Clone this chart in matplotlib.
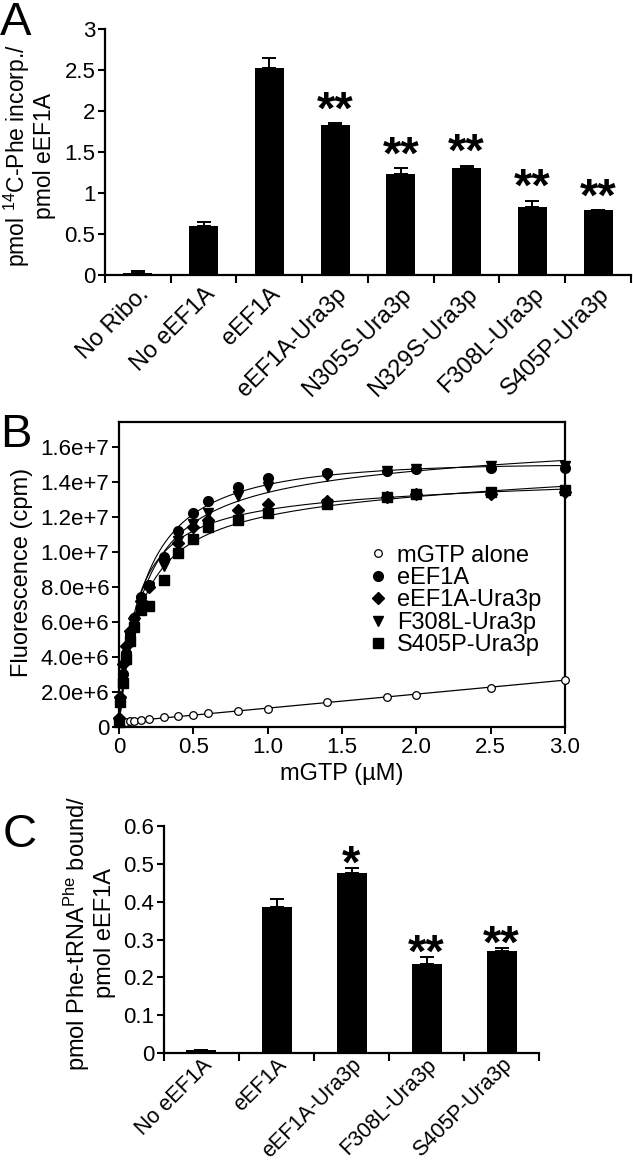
import matplotlib
matplotlib.use('Agg')
import matplotlib.pyplot as plt
import numpy as np

plt.rcParams['font.family'] = ['Liberation Sans', 'DejaVu Sans']
plt.rcParams['mathtext.fontset'] = 'custom'
plt.rcParams['mathtext.rm'] = 'Liberation Sans'
plt.rcParams['mathtext.it'] = 'Liberation Sans:italic'

# ---- panel A data ----
a_labels = ['No Ribo.', 'No eEF1A', 'eEF1A', 'eEF1A-Ura3p', 'N305S-Ura3p',
            'N329S-Ura3p', 'F308L-Ura3p', 'S405P-Ura3p']
a_values = [0.025, 0.60, 2.53, 1.83, 1.23, 1.30, 0.83, 0.79]
a_errors = [0.025, 0.05, 0.12, 0.02, 0.07, 0.03, 0.07, 0.0]
a_stars = ['', '', '', '**', '**', '**', '**', '**']
a_yticks = [0, 0.5, 1, 1.5, 2, 2.5, 3]
a_yticklabels = ['0', '0.5', '1', '1.5', '2', '2.5', '3']

# ---- panel B data (fluorescence, cpm) ----
b_x = [0, 0.01, 0.025, 0.05, 0.075, 0.1, 0.15, 0.2, 0.3, 0.4, 0.5, 0.6,
       0.8, 1.0, 1.4, 1.8, 2.0, 2.5, 3.0]
b_mgtp = [0.25, 0.28, 0.30, 0.30, 0.32, 0.32, 0.38, 0.45, 0.55, 0.62, 0.70,
          0.82, 0.93, 1.03, 1.44, 1.74, 1.83, 2.25, 2.68]
b_eef1a = [0.4, 1.6, 3.0, 4.2, 5.3, 6.2, 7.4, 8.1, 9.7, 11.2, 12.2, 12.9,
           13.7, 14.2, 14.5, 14.6, 14.7, 14.8, 14.8]
b_eef1a_ura = [0.5, 1.7, 3.6, 4.6, 5.5, 6.2, 7.2, 8.0, 9.6, 10.5, 11.4, 11.8,
               12.4, 12.7, 12.9, 13.1, 13.3, 13.3, 13.4]
b_f308l = [0.3, 1.5, 2.8, 4.0, 5.1, 6.0, 7.2, 8.0, 9.2, 10.6, 11.6, 12.2,
           13.2, 13.7, 14.3, 14.6, 14.7, 14.9, 14.9]
b_s405p = [0.3, 1.4, 2.5, 3.9, 4.9, 5.7, 6.7, 6.9, 8.4, 9.9, 10.7, 11.4,
           11.8, 12.2, 12.7, 13.1, 13.3, 13.4, 13.5]
b_yticks = [0, 2e6, 4e6, 6e6, 8e6, 1e7, 1.2e7, 1.4e7, 1.6e7]
b_yticklabels = ['0', '2.0e+6', '4.0e+6', '6.0e+6', '8.0e+6', '1.0e+7',
                 '1.2e+7', '1.4e+7', '1.6e+7']
b_xticks = [0, 0.5, 1.0, 1.5, 2.0, 2.5, 3.0]
b_xticklabels = ['0', '0.5', '1.0', '1.5', '2.0', '2.5', '3.0']

# ---- panel C data ----
c_labels = ['No eEF1A', 'eEF1A', 'eEF1A-Ura3p', 'F308L-Ura3p', 'S405P-Ura3p']
c_values = [0.008, 0.386, 0.477, 0.236, 0.269]
c_errors = [0.0, 0.022, 0.013, 0.019, 0.009]
c_stars = ['', '', '*', '**', '**']
c_yticks = [0, 0.1, 0.2, 0.3, 0.4, 0.5, 0.6]
c_yticklabels = ['0', '0.1', '0.2', '0.3', '0.4', '0.5', '0.6']

FS = 16      # tick labels
LS = 17      # axis labels / legend
W, H = 633, 1169


def fpos(l, t, r, b):
    return [l / W, 1 - b / H, (r - l) / W, (b - t) / H]


def bar_panel(ax, labels, values, errors, stars, yticks, yticklabels, star_off, width,
              lab_fs, lab_pad):
    n = len(labels)
    xc = np.arange(n) + 0.5
    ax.bar(xc, values, width=width, color='black', zorder=2)
    ax.errorbar(xc, values, yerr=[np.zeros(n), errors], fmt='none', ecolor='black',
                elinewidth=1.4, capsize=5, capthick=1.4, zorder=1)
    for x, v, e, s in zip(xc, values, errors, stars):
        if s:
            ax.annotate(s, (x, v + e), xytext=(0, star_off), textcoords='offset points',
                        ha='center', va='baseline', fontsize=34, fontweight='bold')
    ax.set_xlim(0, n)
    ax.set_ylim(0, yticks[-1])
    ax.set_xticks(np.arange(n + 1))
    ax.set_xticklabels([])
    ax.set_xticks(xc, minor=True)
    ax.set_xticklabels(labels, minor=True, rotation=45, ha='right', va='top',
                       rotation_mode='anchor', fontsize=lab_fs)
    ax.tick_params(axis='x', which='minor', length=0, pad=lab_pad)
    ax.tick_params(axis='x', which='major', length=6, width=1.5, direction='out')
    ax.set_yticks(yticks)
    ax.set_yticklabels(yticklabels, fontsize=FS)
    ax.tick_params(axis='y', length=5, width=1.5, direction='out', pad=2)
    for sp in ['top', 'right']:
        ax.spines[sp].set_visible(False)
    for sp in ['left', 'bottom']:
        ax.spines[sp].set_linewidth(1.6)


def fit_hyperbola(x, y):
    x = np.asarray(x)
    y = np.asarray(y)
    best = None
    for k in np.linspace(0.02, 1.5, 600):
        A = np.column_stack([x / (k + x), x])
        coef, res, _, _ = np.linalg.lstsq(A, y, rcond=None)
        r = np.sum((A @ coef - y) ** 2)
        if best is None or r < best[0]:
            best = (r, k, coef)
    return best[1], best[2]


fig = plt.figure(figsize=(W / 100, H / 100), dpi=100)

# ---------- A ----------
axA = fig.add_axes(fpos(105, 29, 631, 275))
bar_panel(axA, a_labels, a_values, a_errors, a_stars, a_yticks, a_yticklabels,
          star_off=0, width=0.44, lab_fs=LS, lab_pad=6)
fig.text(29 / W, 1 - 156 / H, 'pmol $^{\\mathregular{14}}$C-Phe incorp./\npmol eEF1A',
         rotation=90, ha='center', va='center', fontsize=16.5, multialignment='center',
         linespacing=1.1)
fig.text(0 / W, 1 - 23 / H, 'A', fontsize=34, ha='left', va='center')

# ---------- B ----------
axB = fig.add_axes(fpos(119, 422, 565, 727))
xs = np.asarray(b_x)
xfit = np.linspace(0, 3.0, 400)
slope, icpt = np.polyfit(xs, np.asarray(b_mgtp) * 1e6, 1)
axB.plot(xfit, slope * xfit + icpt, color='black', lw=0.9, zorder=1)
series = [(b_eef1a, 'o', 7, 'eEF1A'), (b_eef1a_ura, 'D', 6.5, 'eEF1A-Ura3p'),
          (b_f308l, 'v', 7.5, 'F308L-Ura3p'), (b_s405p, 's', 6.5, 'S405P-Ura3p')]
for ys, mk, ms, lab in series:
    y = np.asarray(ys) * 1e6
    k, coef = fit_hyperbola(xs, y)
    axB.plot(xfit, coef[0] * xfit / (k + xfit) + coef[1] * xfit, color='black', lw=0.8, zorder=1)
handles = []
h = axB.plot(xs, np.asarray(b_mgtp) * 1e6, 'o', ms=5.5, mfc='white', mec='black', mew=0.9,
             label='mGTP alone', zorder=3, clip_on=False)[0]
handles.append(h)
for ys, mk, ms, lab in series:
    h = axB.plot(xs, np.asarray(ys) * 1e6, mk, ms=ms, color='black', label=lab, zorder=3,
                 clip_on=False)[0]
    handles.append(h)
axB.set_xlim(0, 3.0)
axB.set_ylim(0, 1.74e7)
axB.set_xticks(b_xticks)
axB.set_xticklabels(b_xticklabels, fontsize=FS)
axB.set_yticks(b_yticks)
axB.set_yticklabels(b_yticklabels, fontsize=FS)
axB.tick_params(length=5, width=1.4, direction='out', pad=2, top=False, right=False)
for sp in axB.spines.values():
    sp.set_linewidth(1.6)
leg = axB.legend(handles=handles, loc='upper left', bbox_to_anchor=(352 / W, 1 - 528 / H),
                 bbox_transform=fig.transFigure, frameon=False, fontsize=LS,
                 handlelength=0.8, handletextpad=0.4, labelspacing=0.02, borderpad=0.2)
fig.text(22 / W, 1 - 572 / H, 'Fluorescence (cpm)', rotation=90, ha='center', va='center',
         fontsize=LS)
fig.text(342 / W, 1 - 774 / H, 'mGTP (µM)', ha='center', va='center', fontsize=LS)
fig.text(0 / W, 1 - 435 / H, 'B', fontsize=34, ha='left', va='center')

# ---------- C ----------
axC = fig.add_axes(fpos(164, 826, 539, 1053))
bar_panel(axC, c_labels, c_values, c_errors, c_stars, c_yticks, c_yticklabels,
          star_off=-7, width=0.40, lab_fs=15.5, lab_pad=1)
fig.text(89 / W, 1 - 933 / H, 'pmol Phe-tRNA$^{\\mathregular{Phe}}$ bound/\npmol eEF1A',
         rotation=90, ha='center', va='center', fontsize=LS, multialignment='center',
         linespacing=1.1)
fig.text(3 / W, 1 - 835 / H, 'C', fontsize=34, ha='left', va='center')

fig.savefig('out.png', dpi=100)
